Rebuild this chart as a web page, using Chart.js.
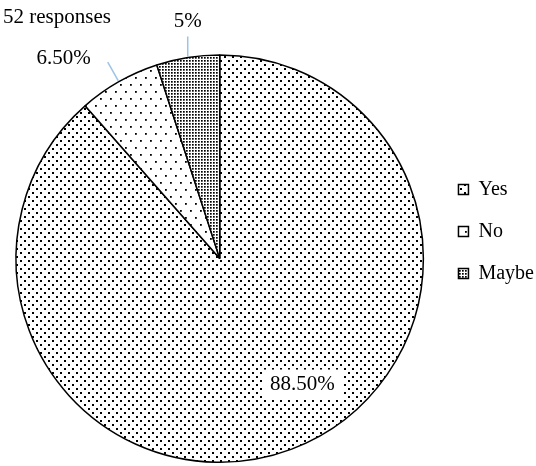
<!DOCTYPE html>
<html>
<head>
<meta charset="utf-8">
<script src="https://cdn.jsdelivr.net/npm/chart.js@4.4.1/dist/chart.umd.min.js"></script>
<style>
  body{margin:0;background:#fff;}
  canvas{display:block;}
</style>
</head>
<body>
<canvas id="myChart" width="536" height="466"></canvas>
<script>
'use strict'

let answers=['Yes','No','Maybe'];
let percents=[88.5,6.5,5];
let percentLabels=['88.50%','6.50%','5%'];
let responsesText='52 responses';

let serif="'Liberation Serif','Times New Roman',serif";

// little dot tiles like the word-processor fill patterns
function dotPattern(w,h,dots,size){
    let tile=document.createElement('canvas');
    tile.width=w;
    tile.height=h;
    let t=tile.getContext('2d');
    t.fillStyle='#fff';
    t.fillRect(0,0,w,h);
    t.fillStyle='#000';
    for(let i=0;i<dots.length;i++){
        t.fillRect(dots[i][0],dots[i][1],size,size);
    }
    return t.createPattern(tile,'repeat');
}

let ctx=document.getElementById('myChart').getContext('2d');
let fills=[
    dotPattern(8,8,[[0,0],[4,4]],2),
    dotPattern(10,14,[[0,0],[5,7]],1.8),
    dotPattern(3,3,[[0,0]],1.7)
];

let pieLabels={
    id:'pieLabels',
    afterDatasetsDraw(chart){
        let c=chart.ctx;
        let arcs=chart.getDatasetMeta(0).data;
        c.save();
        c.font='21px '+serif;
        c.textBaseline='middle';
        for(let i=0;i<arcs.length;i++){
            let a=arcs[i];
            let mid=(a.startAngle+a.endAngle)/2;
            let r=a.outerRadius;
            let txt=percentLabels[i];
            if(percents[i]>20){
                // big slice: label sits inside, a bit toward the start
                let ang=mid-0.22;
                let x=a.x+Math.cos(ang)*r*0.74;
                let y=a.y+Math.sin(ang)*r*0.74;
                let tw=c.measureText(txt).width;
                c.fillStyle='#fff';
                c.fillRect(x-tw/2-8,y-15,tw+16,30);
                c.fillStyle='#000';
                c.textAlign='center';
                c.fillText(txt,x,y);
            }else{
                let dx=Math.cos(mid), dy=Math.sin(mid);
                let x1=a.x+dx*(r+1), y1=a.y+dy*(r+1);
                let x2, y2;
                if(dx<-0.3){
                    x2=a.x+dx*r*1.11;
                    y2=a.y+dy*r*1.11;
                }else{
                    x2=x1;
                    y2=y1-20;
                }
                c.strokeStyle='#9dc3e6';
                c.lineWidth=1.5;
                c.beginPath();
                c.moveTo(x1,y1);
                c.lineTo(x2,y2);
                c.stroke();
                c.fillStyle='#000';
                if(dx<-0.3){
                    c.textAlign='right';
                    c.fillText(txt,x2-17,y2-4);
                }else{
                    c.textAlign='center';
                    c.fillText(txt,x2,y2-15);
                }
            }
        }
        c.restore();
    }
};

let myChart=new Chart(ctx,{
    type:'pie',
    data:{
        labels:answers,
        datasets:[{
            data:percents,
            backgroundColor:fills,
            borderColor:'#000',
            borderWidth:1.5
        }]
    },
    options:{
        responsive:false,
        animation:false,
        layout:{padding:{left:3,right:-8,bottom:3}},
        plugins:{
            title:{
                display:true,
                text:responsesText,
                align:'start',
                color:'#000',
                font:{family:serif,size:21,weight:'normal'},
                padding:{top:5,bottom:24}
            },
            legend:{
                position:'right',
                labels:{
                    color:'#000',
                    boxWidth:10,
                    boxHeight:10,
                    padding:22,
                    font:{family:serif,size:20}
                }
            },
            tooltip:{enabled:false}
        }
    },
    plugins:[pieLabels]
});
</script>
</body>
</html>
